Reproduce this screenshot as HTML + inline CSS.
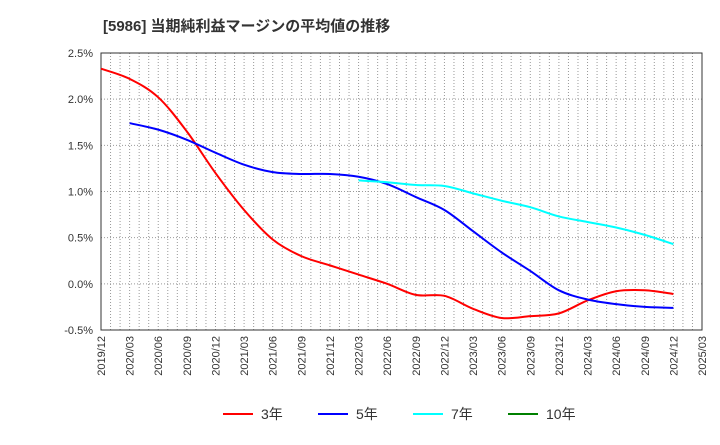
<!DOCTYPE html>
<html><head><meta charset="utf-8"><style>
body{margin:0;background:#fff;font-family:"Liberation Sans","Noto Sans CJK JP",sans-serif;}
svg text{font-family:"Liberation Sans","Noto Sans CJK JP",sans-serif;}
</style></head><body>
<svg id="chart" width="720" height="440">
<text x="103" y="31" font-size="15" font-weight="bold" fill="#333">[5986]  当期純利益マージンの平均値の推移</text>
<g id="grid"></g><g id="axes"></g><g id="series"></g><g id="legend"></g>
</svg>
<script>
const xLabels=["2019/12","2020/03","2020/06","2020/09","2020/12","2021/03","2021/06","2021/09","2021/12","2022/03","2022/06","2022/09","2022/12","2023/03","2023/06","2023/09","2023/12","2024/03","2024/06","2024/09","2024/12","2025/03"];
const yTicks=[-0.5,0,0.5,1,1.5,2,2.5];
const s3=[2.33,2.22,2.02,1.65,1.2,0.8,0.48,0.3,0.2,0.1,0.0,-0.12,-0.13,-0.27,-0.37,-0.35,-0.32,-0.18,-0.08,-0.07,-0.11];
const s5=[null,1.74,1.67,1.56,1.42,1.29,1.21,1.19,1.19,1.16,1.08,0.94,0.8,0.57,0.34,0.14,-0.07,-0.17,-0.22,-0.25,-0.26];
const s7=[null,null,null,null,null,null,null,null,null,1.12,1.1,1.07,1.06,0.98,0.9,0.83,0.73,0.67,0.61,0.53,0.43];
const s10=[];
const L=101,R=702,T=53,B=330,NS="http://www.w3.org/2000/svg";
const xq=i=>L+i*(R-L)/21;
const y=v=>B-(v+0.5)/3*(B-T);
function mk(p,t,a){const e=document.createElementNS(NS,t);for(const k in a)e.setAttribute(k,a[k]);p.appendChild(e);return e;}
const g=document.getElementById('grid'),ax=document.getElementById('axes'),se=document.getElementById('series'),lg=document.getElementById('legend');
for(let m=1;m<63;m++){const x=L+m*(R-L)/63;const l=mk(g,'line',{x1:x,x2:x,y1:T,y2:B,stroke:'#999','stroke-dasharray':'1,2','stroke-width':1});

}
yTicks.forEach(v=>{const l=mk(g,'line',{x1:L,x2:R,y1:y(v),y2:y(v),stroke:'#999','stroke-dasharray':'1,2'});


const t=mk(ax,'text',{x:L-8,y:y(v)+4,'text-anchor':'end','font-size':11,fill:'#333'});t.textContent=v.toFixed(1)+'%';

});
const fr=mk(ax,'rect',{x:L,y:T,width:R-L,height:B-T,fill:'none',stroke:'#333'});


xLabels.forEach((s,i)=>{const t=mk(ax,'text',{transform:`translate(${xq(i)+4},${B+6}) rotate(-90)`,'text-anchor':'end','font-size':11,fill:'#333'});t.textContent=s;

});
function path(arr){const pts=[];arr.forEach((v,i)=>{if(v!==null&&v!==undefined)pts.push([xq(i),y(v)]);});if(pts.length<2)return '';
let d=`M${pts[0][0]},${pts[0][1]}`;for(let i=0;i<pts.length-1;i++){const p0=pts[i-1]||pts[i],p1=pts[i],p2=pts[i+1],p3=pts[i+2]||p2;
d+=` C${p1[0]+(p2[0]-p0[0])/6},${p1[1]+(p2[1]-p0[1])/6} ${p2[0]-(p3[0]-p1[0])/6},${p2[1]-(p3[1]-p1[1])/6} ${p2[0]},${p2[1]}`;}return d;}
[[s3,'#ff0000','series-3y'],[s5,'#0000ff','series-5y'],[s7,'#00ffff','series-7y'],[s10,'#008000','series-10y']].forEach(([a,c,n])=>{const d=path(a);if(!d)return;
const p=mk(se,'path',{d:d,fill:'none',stroke:c,'stroke-width':2});

});
[['3年','#ff0000',223],['5年','#0000ff',318],['7年','#00ffff',413],['10年','#008000',508]].forEach(([s,c,x])=>{
const l=mk(lg,'line',{x1:x,x2:x+30,y1:414,y2:414,stroke:c,'stroke-width':2});


const t=mk(lg,'text',{x:x+38,y:419,'font-size':14,fill:'#333'});t.textContent=s;

});
</script>
</body></html>
